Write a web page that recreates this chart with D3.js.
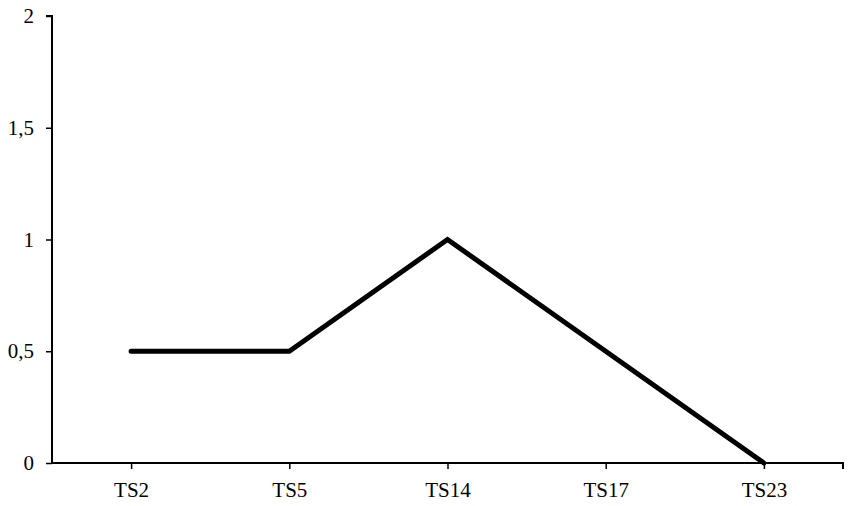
<!DOCTYPE html>
<html><head><meta charset="utf-8">
<script src="https://cdn.jsdelivr.net/npm/d3@7"></script>
<style>body{margin:0;background:#fff}</style>
</head><body><svg id="c" width="851" height="506"></svg>
<script>
const categories = ["TS2","TS5","TS14","TS17","TS23"];
const values = [0.5, 0.5, 1, 0.5, 0];
const yTicks = [0, 0.5, 1, 1.5, 2];
const yTickLabels = ["0","0,5","1","1,5","2"];

(function () {
const svg = d3.select("#c");
const mLeft = 52, mRight = 843, mTop = 16, mBottom = 463;
const x = d3.scalePoint().domain(categories).range([mLeft, mRight]).padding(0.5);
const y = d3.scaleLinear().domain([0, 2]).range([mBottom, mTop]);

const font = "'Liberation Serif', 'Times New Roman', serif";

// line
svg.append("path")
  .datum(values)
  .attr("fill", "none").attr("stroke", "#000").attr("stroke-width", 5)
  .attr("stroke-linejoin", "miter").attr("stroke-linecap", "round")
  .attr("d", d3.line().x((d, i) => x(categories[i])).y(d => y(d)));

// y axis
const ya = svg.append("g").attr("transform", `translate(${mLeft},0)`)
  .call(d3.axisLeft(y).tickValues(yTicks).tickFormat((d, i) => yTickLabels[i]).tickSize(6).tickPadding(12));
ya.select(".domain").attr("stroke-width", 2).attr("d", `M-6,${mTop}H0V${mBottom}`);
ya.selectAll(".tick line").attr("stroke-width", 1.5);
ya.selectAll("text").attr("font-family", font).attr("font-size", 21).attr("fill", "#000");

// x axis
const xa = svg.append("g").attr("transform", `translate(0,${mBottom})`)
  .call(d3.axisBottom(x).tickSize(6).tickPadding(13));
xa.select(".domain").attr("stroke-width", 2).attr("d", `M${mLeft},0H${mRight}V6`);
xa.selectAll(".tick line").attr("stroke-width", 1.5);
xa.selectAll("text").attr("font-family", font).attr("font-size", 21).attr("fill", "#000");
})();
</script></body></html>
